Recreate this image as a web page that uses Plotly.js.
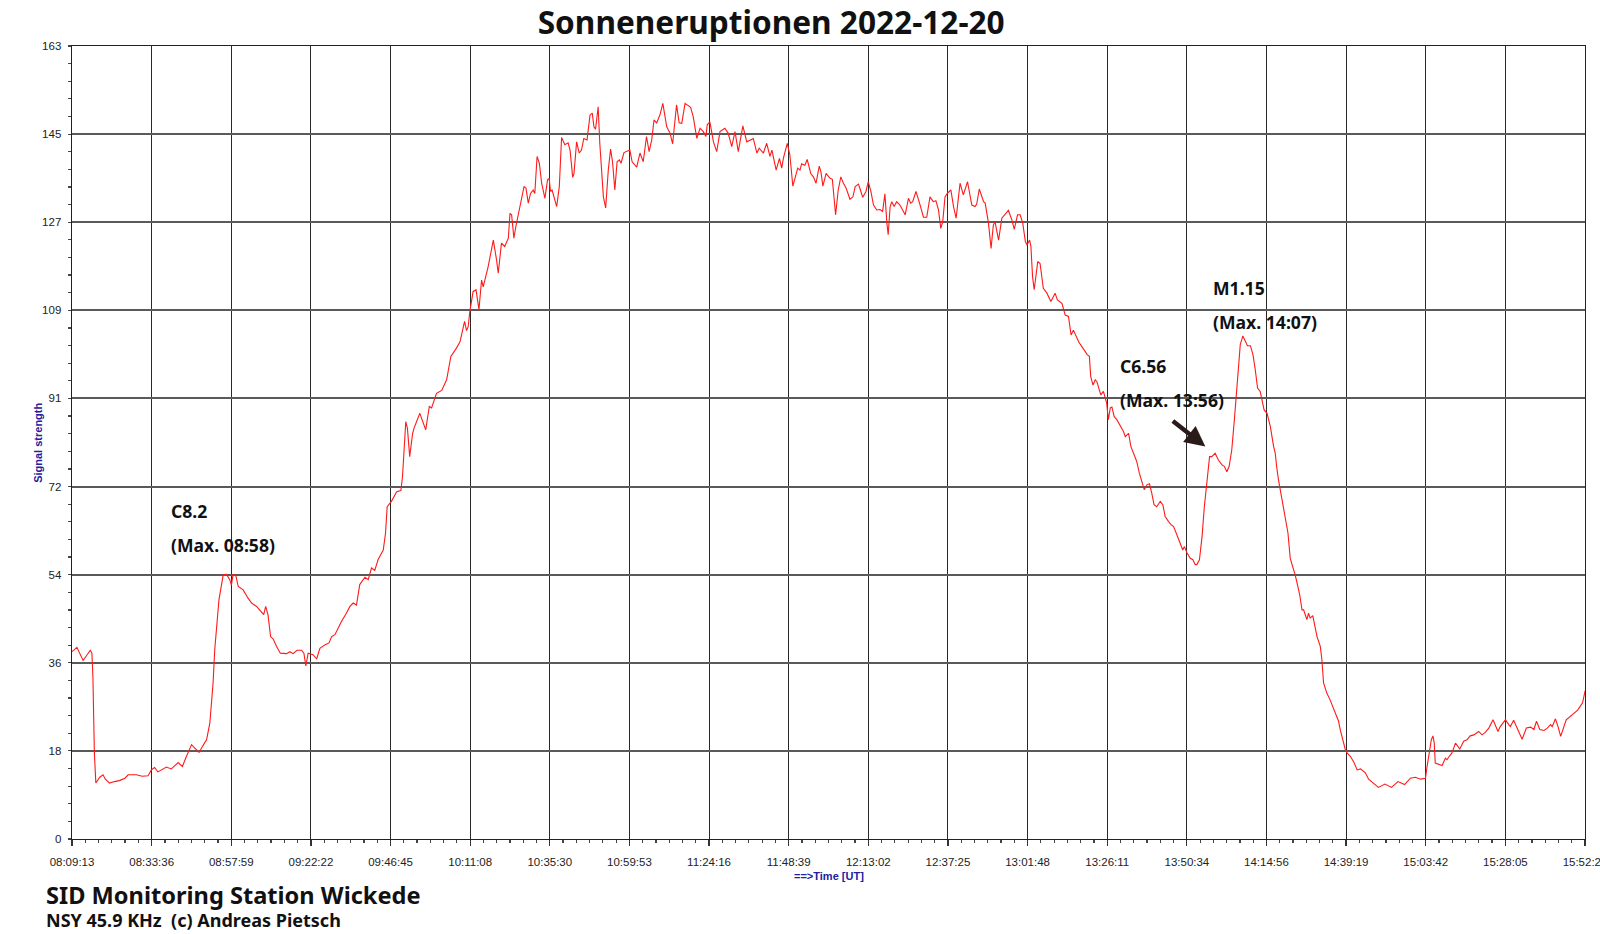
<!DOCTYPE html>
<html><head><meta charset="utf-8">
<script src="https://cdn.plot.ly/plotly-3.0.1.min.js"></script>
<style>html,body{margin:0;padding:0;background:#fff;overflow:hidden}#chart{width:1600px;height:934px}</style>
</head><body><div id="chart"></div>
<script>
const startTime = "08:09:13";
const timeLabels = ["08:09:13","08:33:36","08:57:59","09:22:22","09:46:45","10:11:08","10:35:30","10:59:53","11:24:16","11:48:39","12:13:02","12:37:25","13:01:48","13:26:11","13:50:34","14:14:56","14:39:19","15:03:42","15:28:05","15:52:28"];
const yLabels = ["0","18","36","54","72","91","109","127","145","163"];
const yMax = 163;

// minutes elapsed since startTime
const elapsedMin = [0,1.5,3.4,5.6,6.1,6.4,6.85,7.3,8.5,9.5,10.2,11.5,13,14.5,16.2,17.2,19.7,21.5,23.3,24.3,25.3,26.3,28.9,30.4,32.5,33.8,34.8,36.6,37.6,38.9,40.1,41.2,42.2,43.2,43.7,44.2,45.0,46.3,47.3,48.3,48.8,49.3,50.1,50.9,52.4,53.9,55.0,56.5,58.7,59.3,60.0,60.8,61.6,62.6,63.8,65.7,66.7,67.7,68.9,70.3,71.0,71.6,72.3,73.8,74.9,75.9,77.4,78.7,79.5,80.5,81.5,82.5,84.0,85.1,86.1,87.1,88.1,89.7,90.7,91.7,92.7,93.7,95.3,96.0,96.5,97.8,99.4,100.7,101.2,101.6,102.2,102.7,103.4,104.3,104.7,106.5,107.5,108.3,109.4,110.1,111.6,113.2,114.7,116.0,117.7,118.8,119.6,120.2,120.8,121.3,121.8,122.3,122.8,123.7,124.6,125.4,125.9,127.4,129.0,130.0,130.5,131.5,132.5,133.6,134.1,134.6,135.3,135.9,136.6,138.4,139.0,139.7,140.4,141.2,141.7,142.4,143.1,143.8,144.8,145.6,146.1,146.5,147.0,147.9,148.4,149.2,149.9,150.9,151.9,152.5,153.3,153.7,154.5,155.3,156.0,156.7,157.7,158.6,159.3,159.8,160.3,161.1,161.6,162.7,163.4,164.2,164.9,165.5,166.2,166.9,167.6,168.1,169.0,170.8,171.5,172.9,173.9,174.9,175.9,176.7,177.5,178.2,179.0,180.0,180.9,182.1,183.1,183.9,185.1,185.9,186.7,187.7,189.4,190.2,191.3,192.3,193.3,194.1,194.5,195.3,196.4,197.4,198.4,199.9,200.9,202.0,203.0,204.0,205.4,206.6,208.6,209.7,210.4,211.7,212.7,213.7,214.3,215.6,216.6,217.3,217.8,219.0,219.8,220.7,221.7,222.2,222.9,223.4,224.4,225.1,226.2,227.0,227.8,228.8,229.3,229.9,230.9,232.1,232.8,233.3,233.8,234.6,235.4,236.2,237.0,238.2,239.1,239.8,240.8,241.3,242.1,243.1,243.8,244.6,245.4,246.4,247.4,248.2,248.9,249.5,249.9,250.5,251.0,251.7,252.5,253.5,254.4,255.1,256.1,256.8,257.4,258.4,259.5,260.7,261.7,262.7,263.7,264.5,265.3,266.0,266.6,267.3,268.0,269.1,269.9,270.7,271.9,272.9,274.2,275.5,276.5,277.0,277.8,279.1,279.6,280.6,281.4,282.1,282.6,283.7,284.7,286.0,286.7,287.8,288.5,289.5,290.3,291.1,291.9,292.4,293.2,293.6,294.1,294.6,294.9,295.7,296.4,296.9,297.4,298.5,299.7,300.5,301.0,301.7,303.1,304.1,305.1,305.9,306.6,307.5,308.2,309.2,310.9,311.5,311.9,312.6,313.3,313.8,314.3,315.0,315.8,316.3,316.8,317.3,317.9,318.4,319.1,319.9,320.9,321.9,322.5,323.5,324.2,325.0,326.0,326.8,327.6,328.3,329.1,329.9,330.6,331.3,332.1,333.2,334.0,334.7,335.7,336.5,337.3,338.1,338.8,339.6,340.1,340.6,341.4,342.4,343.2,343.9,344.4,345.2,346.0,346.7,347.5,348.3,349.0,350.0,351.0,352.1,352.8,353.6,354.3,355.1,355.9,356.4,357.1,357.7,358.5,359.2,359.9,360.8,361.6,362.3,363.0,363.8,364.3,365.0,365.9,366.9,367.9,368.4,368.9,369.4,370.5,371.5,372.3,373.0,374.0,374.5,375.0,375.9,376.6,377.1,377.6,378.1,378.6,379.1,379.9,380.4,381.2,382.2,382.7,383.2,384.2,385.2,386.3,387.3,387.8,388.3,389.2,389.9,390.4,391.4,392.4,393.5,394.5,396.0,397.0,398.5,400.0,402.0,404.0,406.0,408.0,409.8,411.3,412.9,414.4,414.9,415.4,416.2,416.7,417.1,417.4,418.4,419.5,420.5,421.0,421.5,422.5,423.6,424.9,426.1,427.1,428.1,429.2,430.7,431.7,432.7,433.8,435.1,435.8,436.6,437.3,438.2,438.9,439.9,440.4,441.4,442.5,444.0,445.3,446.6,447.6,448.4,449.4,450.7,451.7,452.7,453.2,454.2,455.0,455.8,457.5,459.5,461.0,462.5,463.3];
const signal = [38.5,39.4,36.7,38.8,38.2,33.4,17.7,11.5,12.7,13.2,12.3,11.5,11.8,12.0,12.5,13.2,13.2,12.9,13.0,14.2,14.7,13.8,14.8,14.4,15.7,14.9,16.6,19.4,18.7,17.8,19.2,20.4,23.8,32.1,38.9,43.7,49.2,54.3,54.4,53.3,52.2,54.3,54.3,51.9,51.2,49.5,48.5,47.8,46.1,47.8,46.1,41.6,41.1,39.6,38.2,38.1,38.5,38.1,38.8,38.8,38.2,35.6,38.2,37.9,37.0,39.2,39.9,40.3,41.6,42.0,43.4,44.7,46.4,47.8,48.5,48.1,52.3,53.8,53.3,55.7,55.2,57.4,59.4,62.9,68.3,69.4,71.4,71.6,74.5,79.3,85.8,84.4,78.6,83.4,84.4,87.5,85.5,84.1,88.9,88.6,91.6,92.2,94.4,99.2,100.9,102.2,104.6,106.4,104.5,105.3,108.4,110.8,112.5,112.9,108.8,114.9,113.5,117.6,123.1,119.0,116.3,122.5,121.8,123.5,128.6,128.3,123.5,125.9,128.3,134.1,133.8,130.7,132.7,133.4,132.7,140.3,138.9,134.8,131.7,135.5,135.8,133.1,133.4,131.4,130.0,134.1,144.2,142.7,143.1,141.6,136.0,136.8,143.3,141.0,141.6,144.0,143.7,148.8,149.2,146.4,145.9,150.5,143.0,132.0,129.7,137.5,141.8,139.2,133.4,139.2,139.6,138.9,141.1,141.6,139.2,138.1,141.0,139.2,144.4,141.3,143.7,147.8,147.2,148.8,151.2,146.4,145.1,142.9,150.9,147.2,147.1,151.2,150.4,148.5,144.0,146.1,145.4,144.4,146.8,147.4,143.3,141.3,145.4,146.1,145.1,142.3,145.4,141.3,146.6,143.3,144.0,141.0,142.0,141.0,143.0,140.3,141.6,137.5,139.9,137.9,139.9,143.0,140.6,134.2,136.8,137.9,137.5,138.8,138.5,139.7,136.8,136.1,134.8,138.3,137.2,134.2,136.8,135.8,135.6,131.4,128.3,133.4,136.1,134.8,133.8,131.5,132.0,134.1,134.6,133.6,131.9,133.1,135.1,133.1,130.3,129.3,129.4,129.0,132.6,126.6,124.2,130.0,131.0,130.0,131.0,130.3,129.3,128.3,131.7,130.7,131.0,133.1,130.7,127.8,127.8,132.0,131.0,131.2,129.3,125.5,126.9,132.0,132.7,133.4,130.0,127.6,134.8,132.4,135.1,130.3,130.0,130.5,133.6,131.0,130.7,126.6,121.4,126.2,126.9,123.1,127.6,128.5,129.2,127.2,125.3,128.3,128.3,126.6,122.8,122.1,123.1,121.8,115.6,112.9,114.9,118.7,118.3,115.6,113.2,112.2,110.5,111.5,112.2,110.8,110.1,107.7,107.4,103.6,104.6,103.3,102.2,101.2,99.5,99.2,95.1,93.3,94.4,94.0,92.7,91.3,92.0,90.9,89.6,86.2,88.6,88.8,86.8,86.2,85.1,83.8,82.7,83.4,80.7,79.3,77.6,75.2,73.1,71.8,72.8,73.0,71.1,68.7,68.3,69.4,68.7,66.3,65.3,64.6,64.2,62.9,61.8,60.5,59.4,60.1,58.8,57.7,57.4,56.4,56.4,57.4,62.2,68.3,73.1,78.6,78.6,79.3,77.9,76.9,76.6,75.5,76.6,80.0,86.2,90.3,96.4,101.6,103.4,102.2,101.4,101.4,99.5,96.4,92.7,92.0,90.3,88.2,87.5,84.8,80.7,79.3,76.2,73.8,69.7,66.3,62.9,57.7,55.7,54.3,52.9,50.2,47.1,47.1,46.1,45.1,46.4,45.4,45.9,44.4,41.6,39.6,36.8,32.1,30.0,28.6,26.6,25.2,24.2,22.5,20.4,18.3,17.7,17.0,15.9,14.2,14.4,13.6,12.3,11.5,10.6,11.3,10.6,11.8,11.2,12.5,12.7,12.3,12.5,14.9,17.0,20.4,21.2,19.7,15.6,15.3,15.1,16.6,16.3,16.8,17.7,19.7,18.5,20.1,20.4,21.2,21.4,22.1,21.4,21.9,22.8,24.5,23.5,22.1,23.1,23.8,24.5,23.5,23.1,24.4,22.8,20.5,22.8,23.0,22.5,24.2,22.5,22.3,22.8,23.5,23.1,24.7,23.1,21.1,24.5,25.6,26.5,28.0,30.5];

const flareLabels = [
  {name:"C8.2", max:"(Max. 08:58)", x:29.8, y1:67.45, y2:60.47},
  {name:"C6.56", max:"(Max. 13:56)", x:320.3, y1:97.25, y2:90.16},
  {name:"M1.15", max:"(Max. 14:07)", x:348.8, y1:113.3, y2:106.3}
];

function toSec(s){const p=s.split(':').map(Number);return p[0]*3600+p[1]*60+p[2];}
const t0 = toSec(startTime);
const xTicks = timeLabels.map(s => (toSec(s)-t0)/60);
const xEnd = xTicks[xTicks.length-1];
const yTicks = yLabels.map((_,i)=> i*yMax/(yLabels.length-1));

const txtFont = "Noto Sans, DejaVu Sans, sans-serif";
const annFont = {family: txtFont, size: 17.6, color: "#111", weight: 700};
const annotations = [];
flareLabels.forEach(f => {
  annotations.push({x:f.x, y:f.y1, xref:'x', yref:'y', text:f.name, showarrow:false, xanchor:'left', yanchor:'middle', font:annFont});
  annotations.push({x:f.x, y:f.y2, xref:'x', yref:'y', text:f.max, showarrow:false, xanchor:'left', yanchor:'middle', font:annFont});
});
// arrow to C6.56 peak
annotations.push({x:347.0, y:80.67, ax:336.6, ay:86.15, xref:'x', yref:'y', axref:'x', ayref:'y', text:'', showarrow:true, arrowhead:2, arrowsize:0.9, arrowwidth:4.5, arrowcolor:'#2a1a1a', standoff:0, startstandoff:0});
// axis titles
annotations.push({xref:'paper', yref:'paper', x:0.5, y:-0.0463, text:'==>Time [UT]', showarrow:false, xanchor:'center', yanchor:'middle', font:{family:'Liberation Sans, Arial, sans-serif', size:11, color:'#2020a0', weight:700}});
annotations.push({xref:'paper', yref:'paper', x:-0.0229, y:0.5, text:'Signal strength', textangle:-90, showarrow:false, xanchor:'center', yanchor:'middle', font:{family:'Liberation Sans, Arial, sans-serif', size:11, color:'#2020a0', weight:700}});
// footer (two lines in one block)
annotations.push({xref:'paper', yref:'paper', x:-0.0185, y:-0.0838, text:'<span style="font-size:23.6px">SID Monitoring Station Wickede</span><br>NSY 45.9 KHz\u00A0\u00A0(c) Andreas Pietsch', showarrow:false, xanchor:'left', yanchor:'middle', align:'left', font:{family:txtFont, size:18, color:'#111', weight:700}});

const tickFont = {family:'Liberation Sans, Arial, sans-serif', size:11.5, color:'#222'};

const trace = {
  x: elapsedMin, y: signal, type:'scatter', mode:'lines',
  line:{color:'#ff1a1a', width:1.1}, hoverinfo:'skip'
};

const layout = {
  width:1600, height:934,
  margin:{l:72, r:15, t:46, b:95},
  paper_bgcolor:'#fff', plot_bgcolor:'#fff',
  showlegend:false,
  title:{text:'Sonneneruptionen 2022-12-20', font:{family:txtFont, size:31.6, color:'#111', weight:700}, x:0.482, xref:'container', xanchor:'center', y:0.9755, yref:'container', yanchor:'middle'},
  xaxis:{
    range:[0, xEnd], tickmode:'array', tickvals:xTicks, ticktext:timeLabels,
    showgrid:true, gridcolor:'#2a2a2a', gridwidth:1, zeroline:false,
    showline:true, linecolor:'#222', linewidth:1.4, mirror:true,
    ticks:'outside', ticklen:6, tickwidth:1.2, tickcolor:'#333',
    tickfont:tickFont, ticklabelstandoff:6, ticklabeloverflow:'allow',
    minor:{tickmode:'linear', tick0:0, dtick:xEnd/((timeLabels.length-1)*6), ticks:'outside', ticklen:3, tickwidth:1.2, tickcolor:'#444', showgrid:false},
    fixedrange:true
  },
  yaxis:{
    range:[0, yMax], tickmode:'array', tickvals:yTicks, ticktext:yLabels,
    showgrid:true, gridcolor:'#5a5a5a', gridwidth:2, zeroline:false,
    showline:true, linecolor:'#222', linewidth:1.4, mirror:true,
    ticks:'outside', ticklen:3, tickwidth:1.2, tickcolor:'#444',
    tickfont:tickFont, ticklabelstandoff:4,
    minor:{tickmode:'linear', tick0:0, dtick:yMax/((yLabels.length-1)*5), ticks:'outside', ticklen:3, tickwidth:1.2, tickcolor:'#444', showgrid:false},
    fixedrange:true
  },
  annotations: annotations
};

Plotly.newPlot('chart', [trace], layout, {displayModeBar:false, staticPlot:true});
</script>
</body></html>
